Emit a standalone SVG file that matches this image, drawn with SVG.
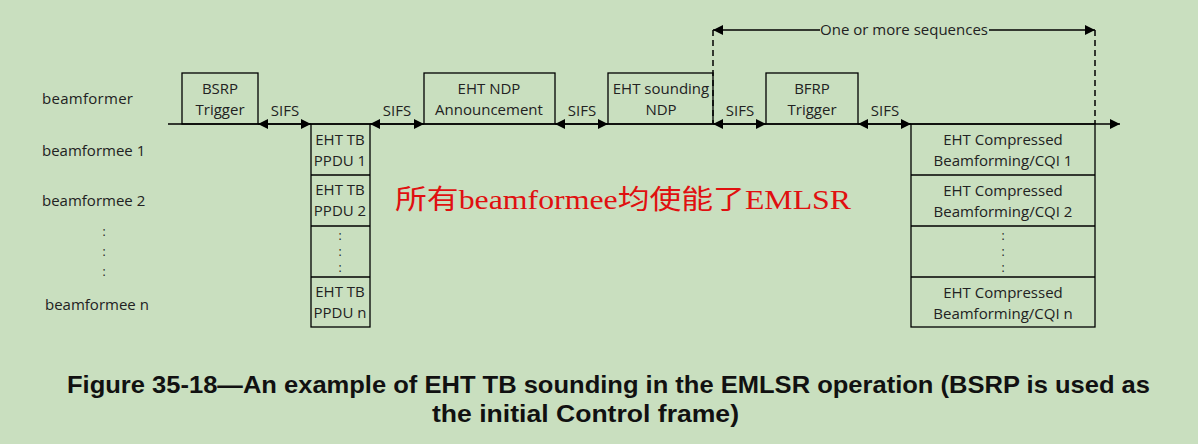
<svg xmlns="http://www.w3.org/2000/svg" width="1198" height="444" viewBox="0 0 1198 444">
<defs>
<marker id="ahb" viewBox="0 0 10 10" refX="10" refY="5" markerWidth="14" markerHeight="10" markerUnits="userSpaceOnUse" orient="auto-start-reverse"><path d="M0,0 L10,5 L0,10 Z" fill="#000"/></marker>
<style>
.box{fill:none;stroke:#000;stroke-width:1.3}
.t{font-family:"Open Sans","Liberation Sans",sans-serif;font-size:15px;fill:#222;text-anchor:middle}
.l{font-family:"Open Sans","Liberation Sans",sans-serif;font-size:15px;fill:#222}
.d{font-family:"Open Sans","Liberation Sans",sans-serif;font-size:12px;fill:#222;text-anchor:middle}
.ln{stroke:#000;stroke-width:1.3;fill:none}
.sifs{stroke:#000;stroke-width:1.3;marker-start:url(#ahb);marker-end:url(#ahb)}
.dash{stroke:#000;stroke-width:1.5;stroke-dasharray:6,4;fill:none}
</style>
</defs>
<rect x="0" y="0" width="1198" height="444" fill="#c9dfbf"/>

<g id="labels">
<text class="l" x="42" y="104" textLength="91">beamformer</text>
<text class="l" x="42" y="156">beamformee 1</text>
<text class="l" x="42" y="206">beamformee 2</text>
<text class="d" x="104" y="236">:</text>
<text class="d" x="104" y="256">:</text>
<text class="d" x="104" y="276">:</text>
<text class="l" x="45" y="310">beamformee n</text>
</g>

<g id="connectors">
<line class="ln" x1="168" y1="124" x2="1120" y2="124" marker-end="url(#ahb)"/>
<line class="sifs" x1="258" y1="124" x2="311" y2="124"/>
<line class="sifs" x1="370" y1="124" x2="424" y2="124"/>
<line class="sifs" x1="555" y1="124" x2="608" y2="124"/>
<line class="sifs" x1="713" y1="124" x2="766" y2="124"/>
<line class="sifs" x1="858" y1="124" x2="911" y2="124"/>
<line class="dash" x1="713" y1="30" x2="713" y2="124"/>
<line class="dash" x1="1095" y1="30" x2="1095" y2="124"/>
<line class="ln" x1="713" y1="30" x2="820" y2="30" marker-start="url(#ahb)"/>
<line class="ln" x1="989" y1="30" x2="1095" y2="30" marker-end="url(#ahb)"/>
<text class="t" x="904" y="35">One or more sequences</text>
<text class="t" x="285" y="116">SIFS</text>
<text class="t" x="397" y="116">SIFS</text>
<text class="t" x="582" y="116">SIFS</text>
<text class="t" x="740" y="116">SIFS</text>
<text class="t" x="885" y="116">SIFS</text>
</g>

<g id="bsrp">
<rect class="box" x="182" y="73" width="76" height="51"/>
<text class="t" x="220" y="94">BSRP</text>
<text class="t" x="220" y="115">Trigger</text>
</g>

<g id="ehttb">
<rect class="box" x="311" y="124" width="59" height="203"/>
<line class="ln" x1="311" y1="175" x2="370" y2="175"/>
<line class="ln" x1="311" y1="226" x2="370" y2="226"/>
<line class="ln" x1="311" y1="277" x2="370" y2="277"/>
<text class="t" x="340" y="145">EHT TB</text>
<text class="t" x="340" y="166">PPDU 1</text>
<text class="t" x="340" y="195">EHT TB</text>
<text class="t" x="340" y="216">PPDU 2</text>
<text class="d" x="340" y="240">:</text>
<text class="d" x="340" y="256">:</text>
<text class="d" x="340" y="272">:</text>
<text class="t" x="340" y="297">EHT TB</text>
<text class="t" x="340" y="318">PPDU n</text>
</g>

<g id="ndpa">
<rect class="box" x="424" y="73" width="131" height="51"/>
<text class="t" x="489" y="94">EHT NDP</text>
<text class="t" x="489" y="115">Announcement</text>
</g>

<g id="ndp">
<rect class="box" x="608" y="73" width="105" height="51"/>
<text class="t" x="661" y="94">EHT sounding</text>
<text class="t" x="661" y="115">NDP</text>
</g>

<g id="bfrp">
<rect class="box" x="766" y="73" width="92" height="51"/>
<text class="t" x="812" y="94">BFRP</text>
<text class="t" x="812" y="115">Trigger</text>
</g>

<g id="ehtcbf">
<rect class="box" x="911" y="124" width="184" height="203"/>
<line class="ln" x1="911" y1="175" x2="1095" y2="175"/>
<line class="ln" x1="911" y1="226" x2="1095" y2="226"/>
<line class="ln" x1="911" y1="277" x2="1095" y2="277"/>
<text class="t" x="1003" y="145">EHT Compressed</text>
<text class="t" x="1003" y="166">Beamforming/CQI 1</text>
<text class="t" x="1003" y="196">EHT Compressed</text>
<text class="t" x="1003" y="217">Beamforming/CQI 2</text>
<text class="d" x="1003" y="240">:</text>
<text class="d" x="1003" y="256">:</text>
<text class="d" x="1003" y="272">:</text>
<text class="t" x="1003" y="298">EHT Compressed</text>
<text class="t" x="1003" y="319">Beamforming/CQI n</text>
</g>

<text x="395" y="209" font-family="'Liberation Serif','Noto Sans CJK SC',serif" font-size="27" fill="#e01010" textLength="456" lengthAdjust="spacingAndGlyphs">所有beamformee均使能了EMLSR</text>

<g id="caption" font-family="'Liberation Sans',Arial,sans-serif" font-size="24" font-weight="bold" fill="#111" text-anchor="middle">
<text x="608.5" y="393" textLength="1083" lengthAdjust="spacingAndGlyphs">Figure 35-18—An example of EHT TB sounding in the EMLSR operation (BSRP is used as</text>
<text x="585.5" y="422" textLength="307" lengthAdjust="spacingAndGlyphs">the initial Control frame)</text>
</g>
</svg>
